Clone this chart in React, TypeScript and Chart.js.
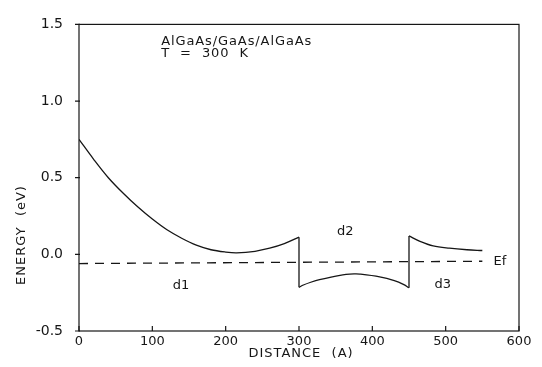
import React, { useEffect, useRef } from "react";
import { Chart, registerables } from "chart.js";

Chart.register(...registerables);

// Band edge: left AlGaAs region (0–300 Å)
const leftX = [0, 20, 40, 60, 80, 100, 120, 140, 160, 180, 200, 215, 240, 260, 280, 300];
const leftE = [0.75, 0.62, 0.5, 0.4, 0.31, 0.23, 0.16, 0.105, 0.06, 0.03, 0.015, 0.01, 0.02, 0.04, 0.07, 0.112];
// GaAs well (300–450 Å)
const wellX = [300, 306, 316, 328, 356, 375, 383, 410, 430, 443, 450];
const wellE = [-0.215, -0.2, -0.182, -0.165, -0.137, -0.128, -0.129, -0.147, -0.172, -0.198, -0.218];
// Right AlGaAs region (450–550 Å)
const rightX = [450, 465, 483, 505, 529, 550];
const rightE = [0.12, 0.085, 0.055, 0.04, 0.03, 0.025];
// Fermi level
const efX = [0, 550];
const efE = [-0.06, -0.045];

const xTicks = [0, 100, 200, 300, 400, 500, 600];
const yTicks = [-0.5, 0.0, 0.5, 1.0, 1.5];

const titleLines = ["AlGaAs/GaAs/AlGaAs", "T  =  300  K"];
const regionLabels = [
  { text: "d1", x: 139, y: -0.205 },
  { text: "d2", x: 363, y: 0.147 },
  { text: "d3", x: 496, y: -0.2 },
  { text: "Ef", x: 574, y: -0.045 },
];
const xTitle = "DISTANCE  (A)";
const yTitle = "ENERGY  (eV)";

const INK = "#161616";
const FONT = "DejaVu Sans";

const pts = (xs: number[], ys: number[]) => xs.map((x, i) => ({ x, y: ys[i] }));

const decor = {
  id: "decor",
  afterDraw(chart: any) {
    const { ctx, chartArea: a, scales } = chart;
    const xs = scales.x;
    const ys = scales.y;
    ctx.save();
    ctx.strokeStyle = INK;
    ctx.lineWidth = 1.2;
    ctx.strokeRect(a.left, a.top, a.right - a.left, a.bottom - a.top);
    // ticks
    ctx.beginPath();
    xTicks.forEach((t) => {
      const px = xs.getPixelForValue(t);
      ctx.moveTo(px, a.bottom);
      ctx.lineTo(px, a.bottom - 5);
    });
    yTicks.forEach((t) => {
      const py = ys.getPixelForValue(t);
      ctx.moveTo(a.left - 4, py);
      ctx.lineTo(a.left + 1, py);
    });
    ctx.stroke();

    ctx.fillStyle = INK;
    ctx.textBaseline = "middle";
    // annotation text
    ctx.font = `13px ${FONT}`;
    (ctx as any).letterSpacing = "0.9px";
    ctx.textAlign = "left";
    const tx = xs.getPixelForValue(112);
    ctx.fillText(titleLines[0], tx, ys.getPixelForValue(1.386));
    ctx.fillText(titleLines[1], tx, ys.getPixelForValue(1.307));
    (ctx as any).letterSpacing = "0px";
    ctx.textAlign = "center";
    ctx.font = `13px ${FONT}`;
    regionLabels.forEach((l) => {
      ctx.fillText(l.text, xs.getPixelForValue(l.x), ys.getPixelForValue(l.y));
    });
    // axis titles
    ctx.font = `13px ${FONT}`;
    (ctx as any).letterSpacing = "1px";
    ctx.fillText(xTitle, (a.left + a.right) / 2 + 2, 354);
    ctx.translate(22, 235);
    ctx.rotate(-Math.PI / 2);
    ctx.fillText(yTitle, 0, 0);
    ctx.restore();
  },
};

export default function App() {
  const ref = useRef<HTMLCanvasElement | null>(null);
  useEffect(() => {
    document.body.style.margin = "0";
    const line = (data: any, dash: number[] = []) => ({
      data,
      borderColor: INK,
      borderWidth: 1.3,
      borderDash: dash,
      pointRadius: 0,
      showLine: true,
      fill: false,
      tension: 0.35,
    });
    const chart = new Chart(ref.current as HTMLCanvasElement, {
      type: "scatter",
      data: {
        datasets: [
          line(pts(leftX, leftE)),
          line(pts(wellX, wellE)),
          line(pts(rightX, rightE)),
          { ...line([{ x: 300, y: leftE[leftE.length - 1] }, { x: 300, y: wellE[0] }]), tension: 0 },
          { ...line([{ x: 450, y: wellE[wellE.length - 1] }, { x: 450, y: rightE[0] }]), tension: 0 },
          { ...line(pts(efX, efE), [9, 7]), tension: 0 },
        ],
      },
      plugins: [decor],
      options: {
        animation: false,
        responsive: true,
        maintainAspectRatio: false,
        layout: { padding: { left: 0, top: 12, right: 23, bottom: 0 } },
        plugins: { legend: { display: false }, tooltip: { enabled: false } },
        scales: {
          x: {
            type: "linear",
            min: 0,
            max: 600,
            afterFit: (s: any) => {
              s.height = 36;
            },
            afterBuildTicks: (s: any) => {
              s.ticks = xTicks.map((v) => ({ value: v }));
            },
            grid: { display: false, drawTicks: false },
            border: { display: false },
            ticks: {
              color: INK,
              padding: 3,
              font: { family: FONT, size: 13 },
              maxRotation: 0,
            },
          },
          y: {
            type: "linear",
            min: -0.5,
            max: 1.5,
            afterFit: (s: any) => {
              s.width = 79;
            },
            afterBuildTicks: (s: any) => {
              s.ticks = yTicks.map((v) => ({ value: v }));
            },
            grid: { display: false, drawTicks: false },
            border: { display: false },
            ticks: {
              color: INK,
              padding: 16,
              font: { family: FONT, size: 14 },
              callback: (v: any) => Number(v).toFixed(1),
            },
          },
        },
      },
    } as any);
    return () => chart.destroy();
  }, []);
  return (
    <div style={{ position: "fixed", left: 0, top: 0, width: 542, height: 367, background: "#fff" }}>
      <canvas ref={ref} />
    </div>
  );
}
